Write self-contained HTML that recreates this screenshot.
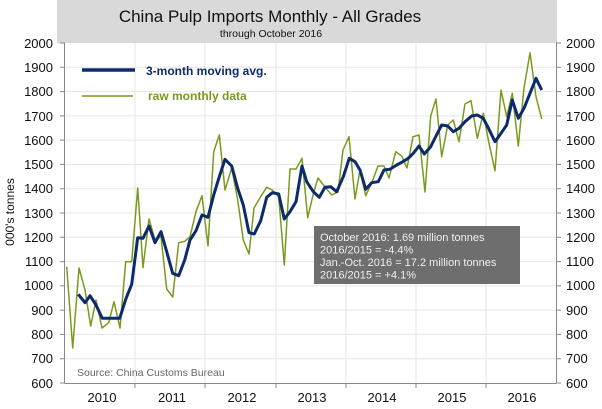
<!DOCTYPE html>
<html><head><meta charset="utf-8"><style>
body{margin:0;background:#fff;}
svg{display:block;font-family:"Liberation Sans",sans-serif;}
</style></head><body>
<svg width="602" height="409" viewBox="0 0 602 409" xmlns="http://www.w3.org/2000/svg">
<rect x="57" y="0" width="500" height="43" fill="#d9d9d9"/>
<text x="270" y="22" font-size="17" text-anchor="middle" fill="#111">China Pulp Imports Monthly - All Grades</text>
<text x="271" y="37" font-size="10.5" text-anchor="middle" fill="#111">through October 2016</text>
<g stroke="#e6e6e6" stroke-width="1">
<line x1="65" y1="67.3" x2="556" y2="67.3"/><line x1="65" y1="91.6" x2="556" y2="91.6"/><line x1="65" y1="115.9" x2="556" y2="115.9"/><line x1="65" y1="140.1" x2="556" y2="140.1"/><line x1="65" y1="164.4" x2="556" y2="164.4"/><line x1="65" y1="188.7" x2="556" y2="188.7"/><line x1="65" y1="213" x2="556" y2="213"/><line x1="65" y1="237.3" x2="556" y2="237.3"/><line x1="65" y1="261.6" x2="556" y2="261.6"/><line x1="65" y1="285.9" x2="556" y2="285.9"/><line x1="65" y1="310.1" x2="556" y2="310.1"/><line x1="65" y1="334.4" x2="556" y2="334.4"/><line x1="65" y1="358.7" x2="556" y2="358.7"/>
<line x1="135" y1="43" x2="135" y2="383"/><line x1="205" y1="43" x2="205" y2="383"/><line x1="276" y1="43" x2="276" y2="383"/><line x1="346" y1="43" x2="346" y2="383"/><line x1="416" y1="43" x2="416" y2="383"/><line x1="486" y1="43" x2="486" y2="383"/>
</g>
<g stroke="#888" stroke-width="1" fill="none">
<line x1="64.5" y1="43" x2="64.5" y2="383"/><line x1="556.5" y1="43" x2="556.5" y2="383"/><line x1="64.5" y1="383.5" x2="556.5" y2="383.5"/>
<path d="M60 43h5M60 67.3h5M60 91.6h5M60 115.9h5M60 140.1h5M60 164.4h5M60 188.7h5M60 213h5M60 237.3h5M60 261.6h5M60 285.9h5M60 310.1h5M60 334.4h5M60 358.7h5M60 383h5"/>
<path d="M556 43h5M556 67.3h5M556 91.6h5M556 115.9h5M556 140.1h5M556 164.4h5M556 188.7h5M556 213h5M556 237.3h5M556 261.6h5M556 285.9h5M556 310.1h5M556 334.4h5M556 358.7h5M556 383h5"/>
<path d="M135 383v5M205 383v5M276 383v5M346 383v5M416 383v5M486 383v5"/>
</g>
<g font-size="13" fill="#111" text-anchor="end">
<text x="53" y="48">2000</text><text x="53" y="72">1900</text><text x="53" y="96">1800</text><text x="53" y="121">1700</text><text x="53" y="145">1600</text><text x="53" y="169">1500</text><text x="53" y="193">1400</text><text x="53" y="218">1300</text><text x="53" y="242">1200</text><text x="53" y="266">1100</text><text x="53" y="290">1000</text><text x="53" y="315">900</text><text x="53" y="339">800</text><text x="53" y="363">700</text><text x="53" y="388">600</text>
</g>
<g font-size="13" fill="#111">
<text x="566" y="48">2000</text><text x="566" y="72">1900</text><text x="566" y="96">1800</text><text x="566" y="121">1700</text><text x="566" y="145">1600</text><text x="566" y="169">1500</text><text x="566" y="193">1400</text><text x="566" y="218">1300</text><text x="566" y="242">1200</text><text x="566" y="266">1100</text><text x="566" y="290">1000</text><text x="566" y="315">900</text><text x="566" y="339">800</text><text x="566" y="363">700</text><text x="566" y="388">600</text>
</g>
<g font-size="13" fill="#111" text-anchor="middle">
<text x="102" y="402">2010</text><text x="172" y="402">2011</text><text x="242" y="402">2012</text><text x="312" y="402">2013</text><text x="382" y="402">2014</text><text x="452" y="402">2015</text><text x="522" y="402">2016</text>
</g>
<text transform="translate(14,212) rotate(-90)" font-size="12" fill="#111" text-anchor="middle">000's tonnes</text>
<text x="77" y="376" font-size="10.5" fill="#666">Source: China Customs Bureau</text>
<polyline fill="none" stroke="#7a9a1e" stroke-width="1.5" stroke-linejoin="round" points="66.7,266.7 72.7,348 79,268 85,290 90.7,326 96,300 102,328 108.7,322.7 114,301.7 120,328 125.7,261.7 131.7,261.7 137.7,188 143,267.7 149,219 155,240 161,236.7 166.7,289 172.7,297 178.7,242.7 184.7,241.3 190,236.7 196,211.7 202,195.7 208,246 213.7,151.7 219.3,135 225,190 231.7,168 237.7,200 243.3,240 249,254 254,208 260.7,196.7 266.7,187.3 272.3,190 278.7,196.7 284.3,265 290,169 296,169 302,158.3 307.7,217.7 313.3,194 318,178 325,187 331.7,195 338,192 343,150 349,136.7 355,199 360,170 365.7,195.7 371.7,183 378,166 384,166 389,178 395.7,151.7 401.7,156 407,168 413,136.7 419,135 425,192 430.7,116 436,99 441.7,156.7 447.7,125 453.3,120 459,141.7 465,104 471,100.7 477.3,138.3 483.3,113.3 489,143.3 495,170.7 501,90 506.7,116.7 512.3,93.3 518.3,146 524,88 530,52.7 536,96.7 541.7,119"/>
<polyline fill="none" stroke="#0d2a6b" stroke-width="3" stroke-linejoin="round" points="78.3,294.3 85,302.7 90,295.7 96,305 102.3,318.3 114,318.3 119.7,318.3 125.7,299.3 131.7,284.3 137.7,237.7 143,238.3 149,226 155,242.7 161,231.7 166.7,251.7 172.7,273.3 178.7,275.7 184.7,260 190,240 196,230.7 202,215 208,217.3 213.7,195 219.3,176.7 225,159.3 231.7,166 237.7,188.3 243.3,205 249,232.7 254.3,234 260.7,220.7 266.7,197.3 272.3,192.7 278.7,194 284.3,219 290,211.7 296,201.7 302,166 306.7,181.7 313.3,191.7 319.3,197.3 325,187.3 330.7,186.7 336.7,191.7 343.3,176.7 349.3,158.3 355,161.7 360,170 365.7,189.3 371.7,182.7 378.3,181.7 384,170 390,169.3 396.7,165 401.7,162.3 408.3,158.3 413.3,153.3 419,146 424.3,154 430.7,146.7 436,136 441.7,125 447.7,126 453.3,131.7 459,128.3 465,121.7 471.7,116 477.3,115 483.3,118.3 489,129.3 495,141.7 501,133.3 506.7,125 512.3,100 518.3,118.3 524,108.3 530,93.3 536,78.3 541.7,90"/>
<line x1="82" y1="70" x2="135" y2="70" stroke="#0d2a6b" stroke-width="3.5"/>
<text x="146" y="75" font-size="12" font-weight="bold" fill="#0d2a6b">3-month moving avg.</text>
<line x1="82" y1="96" x2="133" y2="96" stroke="#7a9a1e" stroke-width="1.5"/>
<text x="148" y="100" font-size="12" font-weight="bold" fill="#7a9a1e">raw monthly data</text>
<rect x="314" y="226" width="206" height="58" fill="#6e6e6e"/>
<g font-size="11" fill="#f0f0f0">
<text x="320" y="241">October 2016: 1.69 million tonnes</text>
<text x="320" y="253.5">2016/2015  = -4.4%</text>
<text x="320" y="266">Jan.-Oct. 2016 = 17.2 million tonnes</text>
<text x="320" y="278.5">2016/2015  = +4.1%</text>
</g>
</svg>
</body></html>
